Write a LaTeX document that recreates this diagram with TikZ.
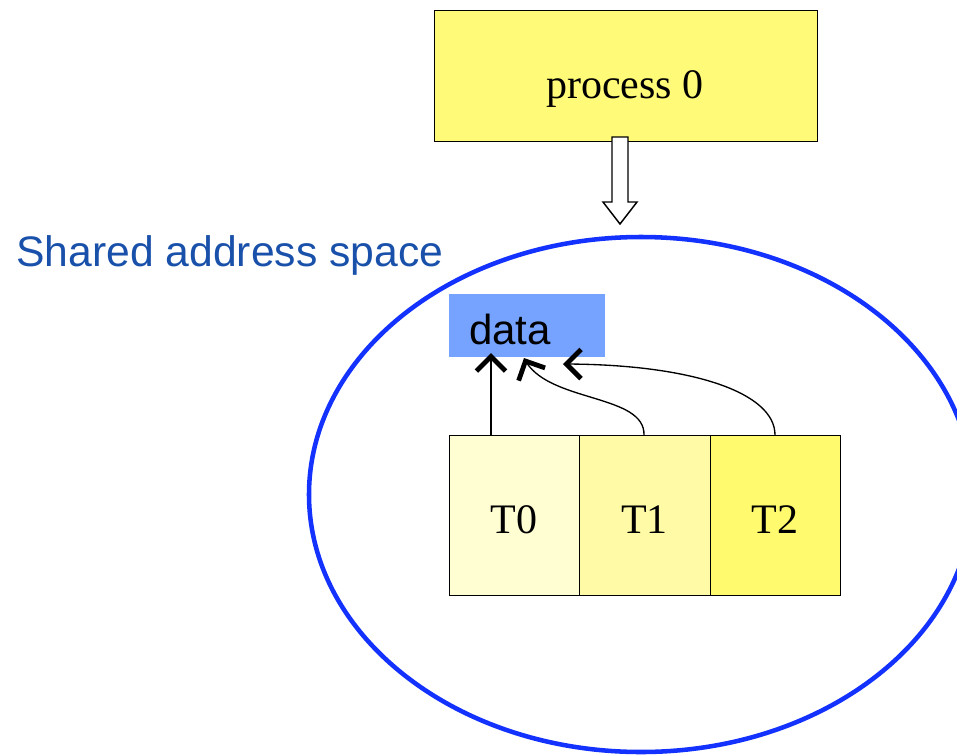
\documentclass[tikz,border=0pt]{standalone}
\usepackage{fontspec}
\setmainfont{Liberation Serif}
\setsansfont{Liberation Sans}
\usetikzlibrary{arrows.meta,bending}
\definecolor{procyel}{RGB}{255,250,120}
\definecolor{tzero}{RGB}{255,253,210}
\definecolor{tone}{RGB}{255,250,165}
\definecolor{ttwo}{RGB}{255,250,110}
\definecolor{datablue}{RGB}{117,163,255}
\definecolor{ellblue}{RGB}{20,50,255}
\definecolor{labblue}{RGB}{25,80,170}
\tikzset{
  box/.style={draw=black, line width=1.1pt, inner sep=0pt, anchor=north west},
  big/.style={font=\fontsize{31.5}{36}\selectfont, inner sep=0pt, anchor=base},
  ptr/.style={line width=1pt, -{Straight Barb[line width=3.6pt, length=11pt, width=22pt]}},
}
\begin{document}
\begin{tikzpicture}[x=0.75pt, y=-0.75pt]
\useasboundingbox (0,0) rectangle (957,754);
% ellipse
\draw[ellblue, line width=3.4pt] (641,494.5) ellipse [x radius=332, y radius=257.5];
% process box
\node[box, fill=procyel, minimum width=287.25pt, minimum height=98.25pt] (proc) at (434,10) {};
\node[big] (proct) at (625,98) {process 0};
% hollow arrow
\draw[line width=1.1pt, fill=white] (612,137) -- (628,137) -- (628,202) -- (637,202) -- (620,224) -- (603,202) -- (612,202) -- cycle;
% label
\node[anchor=base west, inner sep=0pt, text=labblue, font=\sffamily\fontsize{32}{36}\selectfont] (lab) at (16,266) {Shared address space};
% data
\node[anchor=north west, fill=datablue, minimum width=117pt, minimum height=47.25pt, inner sep=0pt] (data) at (449,294) {};
\node[anchor=base west, inner sep=0pt, font=\sffamily\fontsize{31.5}{36}\selectfont] (datat) at (469,344) {data};
% threads
\node[box, fill=tzero, minimum width=97.5pt, minimum height=120pt] (t0) at (449,435) {};
\node[box, fill=tone, minimum width=98.25pt, minimum height=120pt] (t1) at (579,435) {};
\node[box, fill=ttwo, minimum width=97.5pt, minimum height=120pt] (t2) at (710,435) {};
\node[big] at (514,533) {T0};
\node[big] at (644.5,533) {T1};
\node[big] at (775,533) {T2};
% pointers
\coordinate (e0) at (491,353);
\coordinate (e1) at (524,358);
\coordinate (e2) at (563,364);
\draw[ptr] (t0.north west) ++(42,0) coordinate (s0) -- (e0);
\draw[ptr] (t1.north west) ++(65,0) coordinate (s1) .. controls (645,393) and (545,403) .. (e1);
\draw[ptr] (t2.north west) ++(65,0) coordinate (s2) .. controls (775,392) and (690,364) .. (e2);
\end{tikzpicture}
\end{document}
